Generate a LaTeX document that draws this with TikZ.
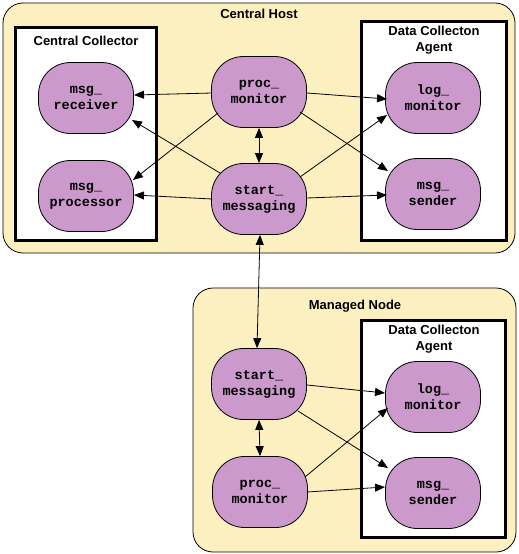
\documentclass[tikz,border=0pt]{standalone}
\usepackage{fontspec}
\setmainfont{Liberation Sans}
\setmonofont{Liberation Mono}
\usetikzlibrary{arrows.meta,calc}
\definecolor{hostfill}{RGB}{253,240,192}
\definecolor{procfill}{RGB}{204,153,204}
\begin{document}
\begin{tikzpicture}[x=1pt,y=-1pt,
  host/.style={draw=black, line width=0.8pt, fill=hostfill, rounded corners=20pt},
  agentbox/.style={draw=black, line width=3pt, fill=white},
  proc/.style={draw=black, line width=0.8pt, fill=procfill, rounded corners=32pt,
    minimum width=95pt, minimum height=71pt, inner sep=0pt, align=center,
    font=\ttfamily\bfseries\fontsize{13.5}{16}\selectfont},
  ttl/.style={font=\bfseries\fontsize{13}{16}\selectfont, align=center, inner sep=0pt},
  conn/.style={-{Triangle[length=10pt,width=8pt]}, line width=0.8pt},
  biconn/.style={{Triangle[length=10pt,width=8pt]}-{Triangle[length=10pt,width=8pt]}, line width=0.8pt}]
\useasboundingbox (0,0) rectangle (519,554);

% containers
\draw[host] (3,3) rectangle (515,253);
\draw[agentbox] (15.5,27.5) rectangle (156.5,240);
\draw[agentbox] (361.5,21.5) rectangle (506.5,240);
\draw[host] (193,288) rectangle (516,552);
\draw[agentbox] (361.5,320) rectangle (505,537);

% titles
\node[ttl] (tch) at (259,14) {Central Host};
\node[ttl] (tcc) at (86,41) {Central Collector};
\node[ttl] (tda1) at (434,40) {Data Collecton\\Agent};
\node[ttl] (tmn) at (355,306) {Managed Node};
\node[ttl] (tda2) at (434,339) {Data Collecton\\Agent};

% processes
\node[proc] (mr) at (86,98) {msg\_\\receiver};
\node[proc] (mp) at (86,196) {msg\_\\processor};
\node[proc] (pm) at (259,92) {proc\_\\monitor};
\node[proc] (sm) at (259,199) {start\_\\messaging};
\node[proc] (lm) at (433,98) {log\_\\monitor};
\node[proc] (ms) at (433,194) {msg\_\\sender};
\node[proc] (msm) at (259,384) {start\_\\messaging};
\node[proc] (mpm) at (260,492) {proc\_\\monitor};
\node[proc] (mlm) at (433,397) {log\_\\monitor};
\node[proc] (mms) at (433,493) {msg\_\\sender};

% central host connectors
\draw[conn] ($(pm)+(-47,1)$) -- ($(mr)+(48,-3)$);
\draw[conn] ($(sm)+(-39,-26)$) -- ($(mr)+(46,22)$);
\draw[conn] ($(pm)+(-41,21)$) -- ($(mp)+(47,-16)$);
\draw[conn] ($(sm)+(-47,0)$) -- ($(mp)+(48,-1)$);
\draw[biconn] (pm.south) -- (sm.north);
\draw[conn] ($(pm)+(48,1)$) -- ($(lm)+(-46,1)$);
\draw[conn] ($(pm)+(41,20)$) -- ($(ms)+(-45,-23)$);
\draw[conn] ($(sm)+(41,-22)$) -- ($(lm)+(-46,17)$);
\draw[conn] ($(sm)+(48,-1)$) -- ($(ms)+(-46,1)$);

% host to node
\draw[biconn] ($(sm.south)+(1,0)$) -- ($(msm.north)+(-2,0)$);

% managed node connectors
\draw[conn] ($(msm)+(48,1)$) -- ($(mlm)+(-48,-4)$);
\draw[conn] ($(msm)+(39,27)$) -- ($(mms)+(-45,-25)$);
\draw[conn] ($(mpm)+(45,-15)$) -- ($(mlm)+(-45,11)$);
\draw[conn] ($(mpm)+(47,0)$) -- ($(mms)+(-48,-6)$);
\draw[biconn] (msm.south) -- (mpm.north);
\end{tikzpicture}
\end{document}
